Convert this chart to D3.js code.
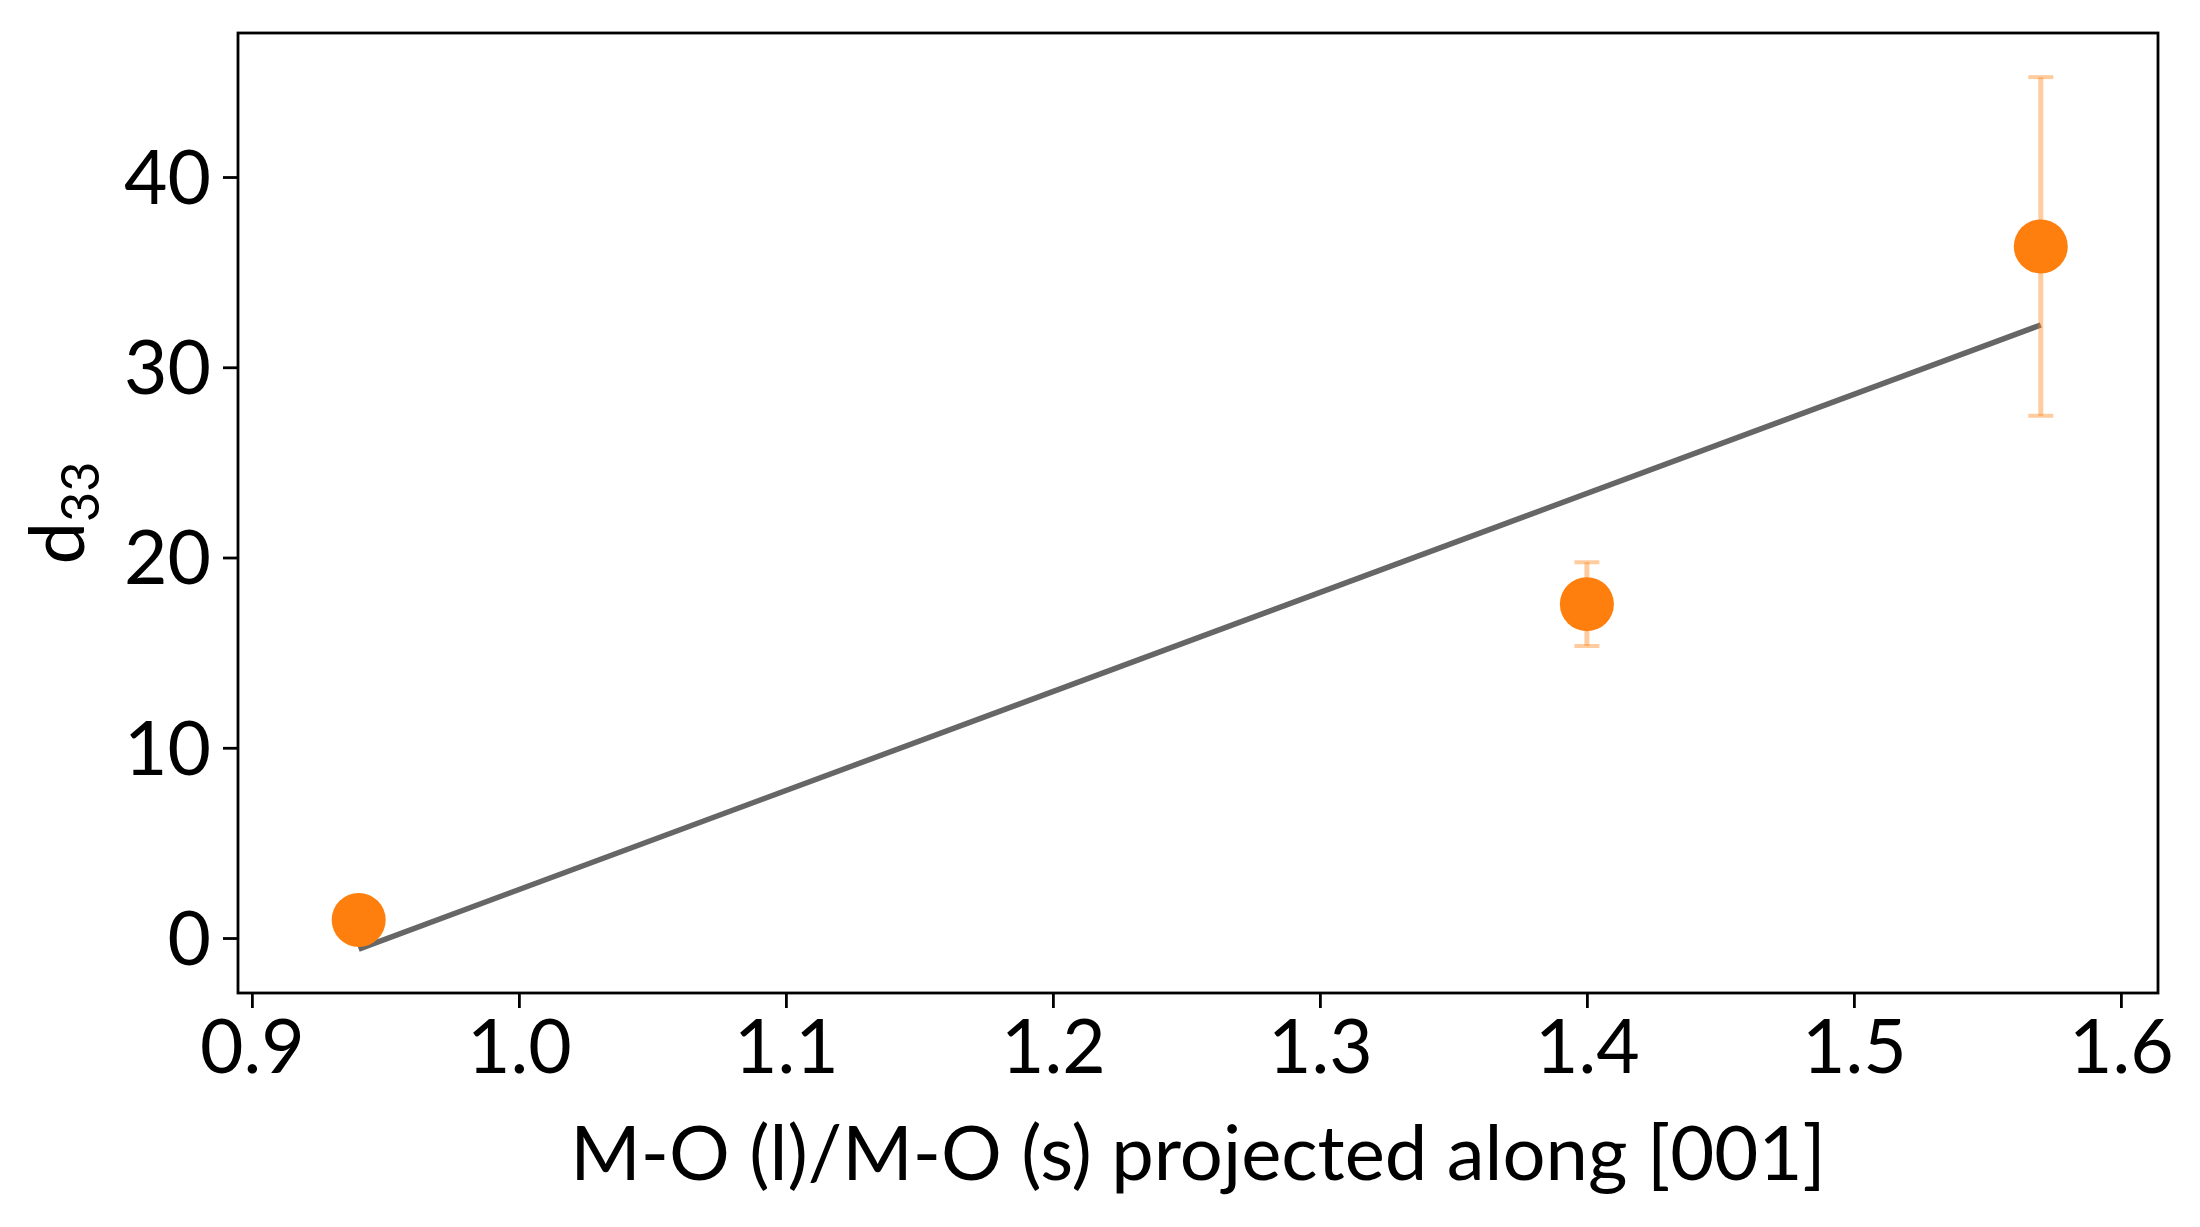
<!DOCTYPE html>
<html>
<head>
<meta charset="utf-8">
<script src="https://cdn.jsdelivr.net/npm/d3@7"></script>
<style>
  body { margin: 0; background: #fff; }
  text { font-family: Lato, "Open Sans", sans-serif; fill: #000; }
</style>
</head>
<body>
<script>
const width = 2200;
const height = 1227;

// ratio of long to short M-O bond, projected along [001]
const ratios = [0.94, 1.40, 1.57];
const d33 = [0.95, 17.55, 36.35];
const d33Err = [0, 2.2, 8.9];

// linear fit drawn between the end points
const fitX = [0.94, 1.57];
const fitY = [-0.58, 32.22];

const xTicks = [0.9, 1.0, 1.1, 1.2, 1.3, 1.4, 1.5, 1.6];
const yTicks = [0, 10, 20, 30, 40];

const margin = { top: 33, right: 42, bottom: 234, left: 238 };

const x = d3.scaleLinear()
  .domain([0.8948, 1.6139])
  .range([margin.left, width - margin.right]);
const y = d3.scaleLinear()
  .domain([-2.89, 47.57])
  .range([height - margin.bottom, margin.top]);

const svg = d3.select('body')
  .append('svg')
  .attr('width', width)
  .attr('height', height);

const points = ratios.map((r, i) => ({ x: r, y: d33[i], e: d33Err[i] }));

// fit line
svg.append('line')
  .attr('x1', x(fitX[0]))
  .attr('y1', y(fitY[0]))
  .attr('x2', x(fitX[1]))
  .attr('y2', y(fitY[1]))
  .attr('stroke', '#666')
  .attr('stroke-width', 5.5);

// error bars
const bars = svg.selectAll('.err')
  .data(points.filter(d => d.e > 0))
  .join('g')
    .classed('err', true)
    .attr('stroke', '#ff7f0e')
    .attr('stroke-opacity', 0.4);
bars.append('line')
  .attr('x1', d => x(d.x))
  .attr('x2', d => x(d.x))
  .attr('y1', d => y(d.y - d.e))
  .attr('y2', d => y(d.y + d.e))
  .attr('stroke-width', 5);
bars.selectAll('.cap')
  .data(d => [d.y - d.e, d.y + d.e].map(v => ({ x: d.x, v })))
  .join('line')
    .classed('cap', true)
    .attr('x1', d => x(d.x) - 12.5)
    .attr('x2', d => x(d.x) + 12.5)
    .attr('y1', d => y(d.v))
    .attr('y2', d => y(d.v))
    .attr('stroke-width', 4);

// markers
svg.selectAll('.pt')
  .data(points)
  .join('circle')
    .classed('pt', true)
    .attr('cx', d => x(d.x))
    .attr('cy', d => y(d.y))
    .attr('r', 27)
    .attr('fill', '#ff7f0e');

// axes
const xAxis = svg.append('g')
  .attr('transform', `translate(0,${height - margin.bottom})`)
  .call(d3.axisBottom(x).tickValues(xTicks).tickFormat(d3.format('.1f'))
    .tickSize(15).tickPadding(12));
const yAxis = svg.append('g')
  .attr('transform', `translate(${margin.left},0)`)
  .call(d3.axisLeft(y).tickValues(yTicks).tickSize(15).tickPadding(12));

[xAxis, yAxis].forEach(g => {
  g.select('.domain').remove();
  g.selectAll('.tick line').attr('stroke', '#000').attr('stroke-width', 2.8);
  g.selectAll('.tick text')
    .attr('font-size', 75)
    .attr('fill', '#000')
    .style('font-family', 'Lato, "Open Sans", sans-serif');
});
yAxis.selectAll('.tick text').attr('dy', '0.35em');

// frame
svg.append('rect')
  .attr('x', margin.left)
  .attr('y', margin.top)
  .attr('width', width - margin.left - margin.right)
  .attr('height', height - margin.top - margin.bottom)
  .attr('fill', 'none')
  .attr('stroke', '#000')
  .attr('stroke-width', 2.8);

// axis labels
svg.append('text')
  .attr('x', (margin.left + width - margin.right) / 2)
  .attr('y', 1180)
  .attr('text-anchor', 'middle')
  .attr('font-size', 76)
  .text('M-O (l)/M-O (s) projected along [001]');

const yl = svg.append('text')
  .attr('transform', `translate(84,${(margin.top + height - margin.bottom) / 2}) rotate(-90)`)
  .attr('text-anchor', 'middle')
  .attr('font-size', 76);
yl.append('tspan').text('d');
yl.append('tspan')
  .attr('font-size', 52)
  .attr('dy', 15)
  .text('33');
</script>
</body>
</html>
